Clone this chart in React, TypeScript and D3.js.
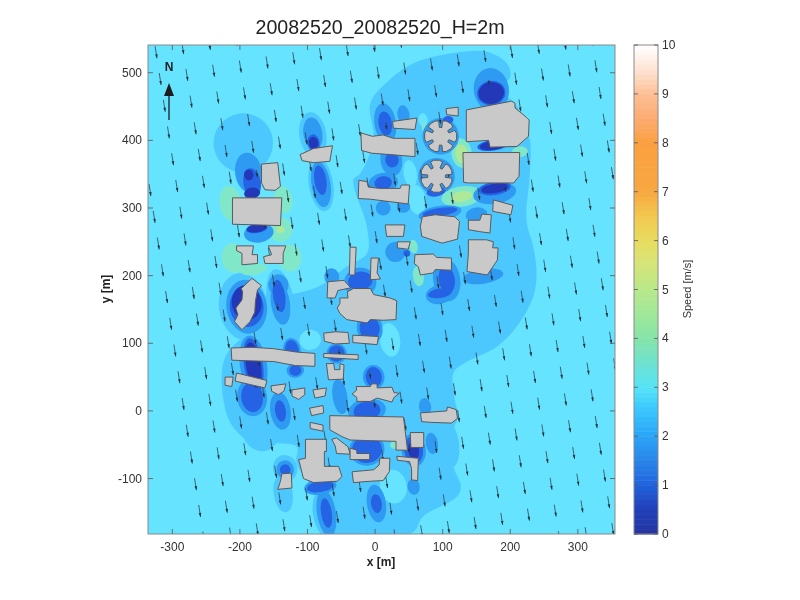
import { range, scaleLinear, line, curveCatmullRomClosed, polygonContains } from 'd3'

const xTicks = [-300, -200, -100, 0, 100, 200, 300]
const yTicks = [-100, 0, 100, 200, 300, 400, 500]
const speedTicks = [0, 1, 2, 3, 4, 5, 6, 7, 8, 9, 10]

const speedStops = [0, 0.5, 1, 1.5, 2, 2.5, 3, 3.5, 4, 4.5, 5, 5.5, 6, 6.5, 7, 8, 8.5, 9, 9.5, 10]
const speedColors = [
  '#25339f', '#2240b8', '#1f62dc', '#2a86ea', '#2ba4f5', '#38c4ff', '#55e3f7', '#6fe2d0', '#85e3a8', '#a0e89a',
  '#b8e88a', '#d5e57a', '#e8dc60', '#f2c850', '#f8a840', '#fba040', '#fbab70', '#fdbf95', '#ffe4d4', '#ffffff',
]

// outline of the 2.5 m/s contour
const slowRegion: number[][] = [
  [-7, 455], [22, 490], [57, 514], [116, 529], [165, 531], [195, 514], [200, 494], [187, 477], [210, 450],
  [229, 401], [229, 351], [224, 282], [234, 243], [239, 204], [234, 169], [210, 125], [180, 95], [131, 70],
  [116, 56], [118, 16], [123, -8], [116, -28], [116, -82], [127, -112], [121, -127], [71, -156], [54, -181],
  [-57, -185], [-91, -117], [-116, -77], [-116, -53], [-150, -48], [-180, -48], [-214, -18], [-227, 51],
  [-219, 85], [-180, 125], [-165, 169], [-116, 174], [-81, 185], [-42, 213], [-12, 233], [-12, 272], [-32, 342],
  [-22, 351], [-2, 401],
]

// wakes as [x, y, rx, ry] in metres, one list per speed band
const lightWakes = [
  [-195, 396, 44, 44], [-92, 408, 20, 34], [-80, 335, 18, 40], [-180, 20, 28, 40], [-170, -20, 30, 40],
  [-195, 154, 36, 50], [-140, 160, 20, 50], [-136, -122, 14, 28], [-133, -85, 18, 20], [108, -48, 16, 36],
  [192, 272, 18, 34], [150, 285, 22, 18], [-72, -151, 20, 38], [91, 164, 26, 22],
]
const midWakes = [
  [-187, 352, 20, 30], [-172, 263, 22, 14], [-92, 410, 14, 24], [-80, 335, 14, 34], [15, 425, 16, 30],
  [42, 438, 9, 14], [24, 371, 16, 24], [12, 337, 22, 15], [12, 300, 11, 11], [42, 302, 10, 9],
  [172, 475, 26, 32], [177, 322, 32, 16], [96, 292, 32, 11], [106, 194, 20, 32], [95, 172, 20, 14],
  [150, 290, 16, 11], [160, 199, 30, 11], [-190, 154, 30, 40], [-140, 159, 14, 32], [-143, 186, 15, 16],
  [-180, 68, 20, 44], [-182, 20, 22, 28], [-123, 90, 13, 18], [-118, 60, 13, 11], [-140, 0, 15, 28],
  [-8, 122, 19, 24], [-2, 50, 16, 18], [-12, 0, 28, 18], [-52, 21, 11, 26], [-57, 85, 15, 15],
  [-12, -57, 26, 24], [57, -58, 18, 24], [57, -112, 9, 12], [84, -48, 9, 16], [74, 6, 9, 13],
  [2, -137, 14, 28], [-72, -151, 14, 35], [-81, -112, 24, 12], [-133, -87, 13, 14], [97, 406, 27, 27],
  [91, 347, 27, 27], [-64, 198, 11, 13], [-22, 190, 24, 22], [30, 235, 15, 15],
]
const darkWakes = [
  [-182, 337, 13, 22], [-175, 270, 16, 7], [-91, 396, 9, 13], [-81, 341, 9, 22], [15, 425, 10, 18],
  [25, 371, 10, 11], [12, 337, 13, 10], [172, 470, 21, 18], [175, 393, 24, 8], [177, 329, 24, 10],
  [96, 294, 26, 6], [106, 194, 12, 20], [-190, 154, 25, 30], [-142, 170, 9, 24], [-180, 68, 14, 40],
  [-182, 20, 16, 22], [-123, 90, 10, 15], [-118, 60, 9, 8], [-140, 0, 8, 16], [-8, 122, 15, 18],
  [-2, 50, 12, 15], [-12, 0, 20, 14], [-57, 85, 12, 12], [-12, -57, 22, 20], [57, -58, 14, 20],
  [2, -137, 8, 14], [-72, -151, 8, 22], [-81, -112, 20, 8], [-133, -87, 8, 8], [-22, 192, 18, 14],
  [90, 324, 14, 7], [108, 430, 8, 6], [96, 174, 18, 7], [47, 233, 5, 5],
]
const coreWakes = [
  [-182, 322, 12, 8], [-187, 349, 7, 8], [-175, 270, 15, 6], [-91, 396, 7, 9], [172, 470, 19, 16],
  [175, 393, 20, 7], [177, 329, 20, 7], [-190, 160, 22, 26], [-180, 68, 11, 34], [57, -58, 8, 14],
]
const calmHoles = [
  [22, 105, 15, 25], [27, -112, 20, 25], [-96, 105, 16, 15], [52, 351, 10, 20], [62, 312, 13, 22], [71, 430, 7, 10],
]
const greenPatches = [
  [-214, 307, 16, 26], [-136, 312, 14, 20], [-140, 268, 18, 18], [-209, 226, 18, 22], [-126, 226, 17, 20],
  [-180, 209, 20, 8], [128, 381, 15, 22], [128, 317, 30, 15], [57, 243, 6, 10], [64, 199, 8, 15], [74, 418, 5, 8],
  [214, 383, 12, 8], [30, -50, 8, 6],
]
const yellowPatches = [[128, 380, 9, 14], [128, 317, 16, 8], [-140, 268, 6, 5]]

const buildings: number[][][] = [
  [[-168, 365], [-144, 367], [-140, 332], [-148, 326], [-163, 327], [-168, 337]],
  [[-211, 315], [-138, 315], [-140, 274], [-211, 276]],
  [[-205, 244], [-180, 244], [-182, 231], [-174, 231], [-174, 218], [-197, 216], [-197, 233], [-205, 237]],
  [[-158, 244], [-132, 244], [-136, 233], [-136, 218], [-163, 218], [-165, 228], [-153, 231]],
  [[-111, 379], [-91, 388], [-63, 392], [-67, 369], [-91, 367], [-108, 370]],
  [[-37, 242], [-28, 242], [-30, 201], [-38, 201]],
  [[-6, 226], [5, 226], [3, 204], [8, 195], [-7, 194]],
  [[-70, 191], [-46, 193], [-36, 182], [-55, 178], [-59, 167], [-71, 167]],
  [[-182, 196], [-168, 185], [-174, 179], [-177, 162], [-178, 146], [-185, 132], [-197, 120], [-208, 132], [-203, 142], [-206, 152], [-197, 164], [-196, 176], [-198, 181]],
  [[-213, 93], [-182, 94], [-150, 92], [-116, 87], [-89, 85], [-89, 66], [-118, 67], [-150, 73], [-185, 74], [-212, 75]],
  [[-222, 50], [-210, 50], [-212, 36], [-222, 38]],
  [[-205, 56], [-160, 45], [-163, 34], [-207, 44]],
  [[-154, 37], [-132, 40], [-135, 29], [-143, 24], [-153, 29]],
  [[-123, 31], [-104, 34], [-104, 24], [-113, 17], [-123, 22]],
  [[-92, 31], [-72, 34], [-74, 22], [-89, 19]],
  [[-97, 4], [-77, 8], [-76, -3], [-94, -7]],
  [[-96, -17], [-77, -21], [-77, -30], [-96, -26]],
  [[-103, -42], [-72, -42], [-72, -60], [-75, -60], [-75, -82], [-54, -82], [-49, -97], [-56, -104], [-91, -106], [-106, -100], [-113, -72], [-103, -70]],
  [[-138, -93], [-124, -92], [-123, -114], [-144, -116], [-140, -104]],
  [[-76, 85], [-25, 83], [-25, 76], [-76, 79]],
  [[-76, 115], [-59, 117], [-40, 116], [-38, 100], [-59, 99], [-75, 103]],
  [[-33, 112], [5, 110], [3, 98], [-33, 101]],
  [[-72, 70], [-61, 70], [-60, 61], [-52, 61], [-52, 70], [-46, 68], [-47, 47], [-69, 46]],
  [[-28, 36], [-7, 36], [-5, 40], [3, 40], [3, 34], [25, 35], [28, 27], [36, 26], [28, 20], [25, 13], [3, 19], [-7, 14], [-27, 14], [-27, 20], [-34, 25], [-27, 31]],
  [[-52, 159], [-52, 167], [-40, 167], [-41, 176], [-32, 181], [-7, 181], [-2, 172], [22, 167], [32, 163], [31, 135], [12, 134], [-7, 135], [-12, 130], [-42, 135], [-52, 144], [-56, 152]],
  [[-67, -7], [42, -9], [48, -58], [31, -58], [31, -45], [-7, -44], [-37, -43], [-49, -38], [-67, -28]],
  [[52, -32], [72, -32], [72, -54], [53, -54]],
  [[-64, -42], [-57, -40], [-40, -53], [-37, -64], [-57, -63], [-59, -52]],
  [[-37, -55], [-27, -58], [-27, -63], [-8, -63], [-8, -72], [-37, -72]],
  [[-34, -90], [-2, -87], [6, -80], [7, -70], [22, -70], [21, -90], [12, -103], [-7, -104], [-32, -106]],
  [[32, -67], [64, -70], [63, -103], [54, -102], [54, -85], [51, -75], [33, -73]],
  [[67, -3], [106, 0], [107, 6], [120, 2], [122, -11], [113, -18], [84, -17], [69, -16]],
  [[26, 428], [62, 433], [59, 416], [27, 418]],
  [[-21, 411], [-4, 406], [12, 408], [27, 403], [59, 403], [59, 376], [22, 379], [-5, 381], [-20, 385]],
  [[105, 447], [123, 449], [123, 436], [106, 438]],
  [[135, 445], [202, 458], [207, 455], [207, 448], [224, 434], [228, 430], [227, 406], [210, 391], [170, 390], [168, 400], [135, 398]],
  [[130, 382], [214, 382], [213, 347], [205, 337], [138, 337], [131, 338]],
  [[70, 287], [89, 290], [118, 287], [125, 280], [122, 254], [99, 248], [69, 258], [67, 273]],
  [[15, 275], [44, 275], [42, 258], [17, 258]],
  [[33, 250], [52, 250], [49, 239], [33, 241]],
  [[-24, 341], [-12, 339], [-10, 331], [7, 329], [37, 329], [39, 334], [51, 334], [49, 306], [-7, 313], [-25, 314]],
  [[175, 312], [204, 304], [201, 290], [174, 295]],
  [[138, 282], [155, 282], [158, 291], [172, 290], [170, 263], [155, 265], [138, 268]],
  [[138, 253], [165, 253], [175, 250], [174, 241], [182, 241], [181, 223], [166, 201], [136, 206], [138, 233]],
  [[59, 231], [86, 232], [91, 227], [113, 226], [113, 208], [89, 209], [86, 204], [67, 201], [64, 213], [58, 218]],
]

// star shaped towers: [x, y, radius, first slot bearing]
const towers = [[97, 406, 24, 0], [91, 347, 24, 30]]
const slotBearings = [0, 60, 120, 180, 240, 300]

// arrow lattice, metres along and across the wind
const arrowAcross = range(-40, 760, 40)
const arrowAlong = range(-80, 840, 40)
const windAngle = (8.8 * Math.PI) / 180
const arrowOrigin = [-318, 490.7]
const arrowLength = 18

const margin = { left: 148, top: 45, right: 615, bottom: 534 }
const barLeft = 634
const barRight = 658
const ink = '#333333'
const font = '"Liberation Sans", Arial, sans-serif'

const xScale = scaleLinear().domain([-336, 355]).range([margin.left, margin.right])
const yScale = scaleLinear().domain([-182, 541]).range([margin.bottom, margin.top])
const barScale = scaleLinear().domain([0, 10]).range([margin.bottom, margin.top])
const colorScale = scaleLinear<string>().domain(speedStops).range(speedColors)

const outline = line<number[]>()
  .x((d) => xScale(d[0]))
  .y((d) => yScale(d[1]))
const smoothOutline = line<number[]>()
  .x((d) => xScale(d[0]))
  .y((d) => yScale(d[1]))
  .curve(curveCatmullRomClosed)

function inWake(list: number[][], px: number, py: number) {
  return list.some(([x, y, rx, ry]) => ((px - x) / rx) ** 2 + ((py - y) / ry) ** 2 < 1)
}

function towerOutline([cx, cy, r, start]: number[]) {
  const points: number[][] = []
  const at = (deg: number, rad: number) => {
    const a = ((start + deg) * Math.PI) / 180
    points.push([cx + rad * Math.sin(a), cy + rad * Math.cos(a)])
  }
  slotBearings.forEach((b) => {
    at(b - 7, r * 0.95)
    at(b - 8, r * 0.55)
    at(b + 8, r * 0.55)
    at(b + 7, r * 0.95)
    at(b + 20, r)
    at(b + 40, r)
  })
  return points
}

function Wakes({ list, fill }: { list: number[][]; fill: string }) {
  return (
    <g fill={fill}>
      {list.map(([x, y, rx, ry]) => (
        <ellipse
          key={`${x}-${y}-${rx}`}
          cx={xScale(x)}
          cy={yScale(y)}
          rx={xScale(rx) - xScale(0)}
          ry={yScale(0) - yScale(ry)}
          transform={`rotate(-8.8 ${xScale(x)} ${yScale(y)})`}
        />
      ))}
    </g>
  )
}

function Arrow({ a, b }: { a: number; b: number }) {
  const cx = arrowOrigin[0] + a * Math.cos(windAngle) + b * Math.sin(windAngle)
  const cy = arrowOrigin[1] + a * Math.sin(windAngle) - b * Math.cos(windAngle)
  let len = arrowLength
  if (inWake(coreWakes, cx, cy)) len *= 0.3
  else if (inWake(darkWakes, cx, cy)) len *= 0.6
  if (buildings.some((p) => polygonContains(p as [number, number][], [cx, cy]))) return null
  const dx = (len / 2) * Math.sin(windAngle)
  const dy = (len / 2) * Math.cos(windAngle)
  const x1 = xScale(cx - dx)
  const y1 = yScale(cy + dy)
  const x2 = xScale(cx + dx)
  const y2 = yScale(cy - dy)
  const ux = (x2 - x1) / Math.hypot(x2 - x1, y2 - y1)
  const uy = (y2 - y1) / Math.hypot(x2 - x1, y2 - y1)
  const hx = x2 - ux * 4
  const hy = y2 - uy * 4
  return (
    <g>
      <line x1={x1} y1={y1} x2={x2} y2={y2} stroke="#2f4450" strokeWidth={0.8} />
      <path
        d={`M${x2},${y2}L${hx - uy * 1.3},${hy + ux * 1.3}L${hx + uy * 1.3},${hy - ux * 1.3}Z`}
        fill="#22323c"
      />
    </g>
  )
}

export default function App() {
  const plotWidth = margin.right - margin.left
  const plotHeight = margin.bottom - margin.top
  return (
    <svg
      width={800}
      height={600}
      style={{ position: 'absolute', left: 0, top: 0, background: '#fff' }}
      fontFamily={font}
    >
      <defs>
        <clipPath id="plot">
          <rect x={margin.left} y={margin.top} width={plotWidth} height={plotHeight} />
        </clipPath>
        <filter id="soft" x="-5%" y="-5%" width="110%" height="110%">
          <feGaussianBlur stdDeviation={0.6} />
        </filter>
      </defs>

      <g filter="url(#soft)">
        <g clipPath="url(#plot)">
          <rect x={margin.left} y={margin.top} width={plotWidth} height={plotHeight} fill="#66e3ff" />
          <path d={smoothOutline(slowRegion) ?? ''} fill="#4dc8ff" />
          <Wakes list={calmHoles} fill="#66e3ff" />
          <Wakes list={lightWakes} fill="#4dc8ff" />
          <Wakes list={greenPatches} fill="#80e8c8" />
          <Wakes list={yellowPatches} fill="#b0e89a" />
          <Wakes list={midWakes} fill="#2f9af2" />
          <Wakes list={darkWakes} fill="#2564e4" />
          <Wakes list={coreWakes} fill="#2338b8" />

          {arrowAcross.map((a) =>
            arrowAlong.map((b) => <Arrow key={`${a}-${b}`} a={a} b={b} />),
          )}

          <g fill="#c9c9c9" stroke="#5a5a5a" strokeWidth={1} strokeLinejoin="round">
            {buildings.map((b, i) => (
              <path key={i} d={`${outline(b)}Z`} />
            ))}
            {towers.map((t, i) => (
              <path key={i} d={`${outline(towerOutline(t))}Z`} />
            ))}
          </g>

          <line x1={169} y1={120} x2={169} y2={92} stroke="#1f2d36" strokeWidth={1.4} />
          <path d="M169,83L174,96L164,96Z" fill="#1a1a1a" />
          <text x={169} y={71} textAnchor="middle" fontSize={12} fontWeight="bold" fill="#222">
            N
          </text>
        </g>

        <rect x={margin.left} y={margin.top} width={plotWidth} height={plotHeight} fill="none" stroke="#8a8a8a" />

        {xTicks.map((t) => (
          <g key={t} stroke="#555" strokeWidth={0.8}>
            <line x1={xScale(t)} x2={xScale(t)} y1={margin.bottom} y2={margin.bottom - 5} />
            <line x1={xScale(t)} x2={xScale(t)} y1={margin.top} y2={margin.top + 5} />
            <text x={xScale(t)} y={551} textAnchor="middle" fontSize={12} fill={ink} stroke="none">
              {t}
            </text>
          </g>
        ))}
        {yTicks.map((t) => (
          <g key={t} stroke="#555" strokeWidth={0.8}>
            <line x1={margin.left} x2={margin.left + 5} y1={yScale(t)} y2={yScale(t)} />
            <line x1={margin.right} x2={margin.right - 5} y1={yScale(t)} y2={yScale(t)} />
            <text x={142} y={yScale(t) + 4} textAnchor="end" fontSize={12} fill={ink} stroke="none">
              {t}
            </text>
          </g>
        ))}

        {range(0, 10, 0.1).map((v) => (
          <rect
            key={v}
            x={barLeft}
            y={barScale(v + 0.1)}
            width={barRight - barLeft}
            height={barScale(v) - barScale(v + 0.1) + 0.5}
            fill={colorScale(v + 0.05)}
          />
        ))}
        <rect x={barLeft} y={margin.top} width={barRight - barLeft} height={plotHeight} fill="none" stroke="#8a8a8a" />
        {speedTicks.map((t) => (
          <g key={t} stroke="#555" strokeWidth={0.8}>
            <line x1={barLeft} x2={barLeft + 4} y1={barScale(t)} y2={barScale(t)} />
            <line x1={barRight} x2={barRight - 4} y1={barScale(t)} y2={barScale(t)} />
            <text x={662} y={barScale(t) + 4} fontSize={12} fill={ink} stroke="none">
              {t}
            </text>
          </g>
        ))}

        <text x={380} y={34} textAnchor="middle" fontSize={19.6} fill="#222">
          20082520_20082520_H=2m
        </text>
        <text x={381} y={566} textAnchor="middle" fontSize={12} fontWeight="bold" fill="#222">
          x [m]
        </text>
        <text
          transform="translate(110,289) rotate(-90)"
          textAnchor="middle"
          fontSize={12}
          fontWeight="bold"
          fill="#222"
        >
          y [m]
        </text>
        <text transform="translate(691,289) rotate(-90)" textAnchor="middle" fontSize={11} fill="#333">
          Speed [m/s]
        </text>
      </g>
    </svg>
  )
}
